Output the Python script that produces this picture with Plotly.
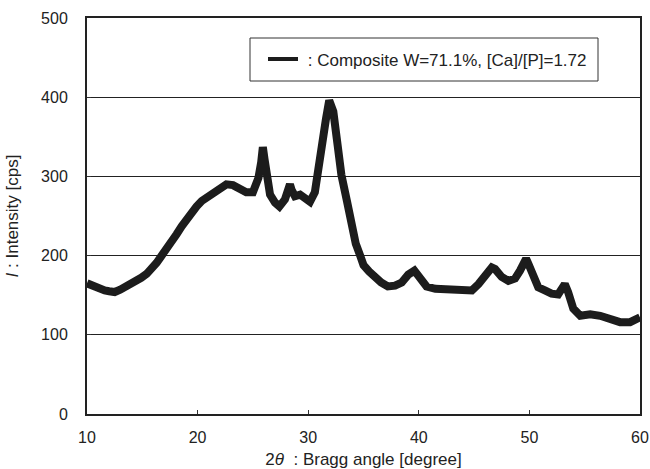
import plotly.graph_objects as go

two_theta = [10.0, 10.5, 11.0, 11.6, 12.0, 12.5, 13.0, 13.7, 14.3, 14.9, 15.4, 15.85, 16.3, 16.75,
             17.2, 17.66, 18.1, 18.56, 19.0, 19.47, 19.9, 20.37, 20.8, 21.27, 21.7, 22.18, 22.6,
             23.2, 23.8, 24.4, 25.0, 25.5, 25.75, 25.9, 26.05, 26.25, 26.55, 27.0, 27.4, 27.9,
             28.2, 28.35, 28.5, 28.8, 29.26, 29.7, 30.16, 30.6, 30.9, 31.2, 31.6, 31.9, 32.05,
             32.27, 32.6, 33.0, 33.5, 33.9, 34.3, 34.7, 35.0, 35.5, 36.0, 36.6, 37.2, 37.85,
             38.45, 39.05, 39.6, 40.1, 40.7, 41.5, 42.4, 43.3, 44.2, 44.8, 45.4, 46.0, 46.6,
             46.9, 47.5, 48.1, 48.7, 49.15, 49.5, 49.7, 49.9, 50.2, 50.8, 51.4, 52.0, 52.6,
             53.0, 53.2, 53.5, 53.97, 54.6, 55.5, 56.4, 57.3, 58.2, 59.1, 59.6, 60.0]
intensity = [165, 162, 158, 156, 155, 154, 157, 162, 167, 172, 177, 183, 191, 200,
             208, 217, 227, 237, 246, 254, 262, 269, 273, 277, 282, 285, 290,
             289, 284, 280, 280, 298, 318, 337, 322, 298, 277, 267, 262, 271,
             280, 290, 283, 275, 277, 271, 268, 280, 311, 346, 372, 396, 392,
             382, 346, 302, 269, 238, 215, 200, 188, 180, 173, 166, 161, 162,
             166, 176, 181, 173, 161, 158, 157, 157, 155, 156, 164, 173, 185,
             183, 173, 168, 171, 181, 190, 196, 190, 181, 160, 156, 152, 151,
             158, 164, 154, 133, 124, 126, 124, 120, 116, 116, 118, 122]

x_ticks = [10, 20, 30, 40, 50, 60]
y_ticks = [0, 100, 200, 300, 400, 500]
series_name = "\u00a0: Composite W=71.1%, [Ca]/[P]=1.72"

FONT = "Liberation Sans, Arial, sans-serif"
INK = "#1c1c1c"

fig = go.Figure()
fig.add_trace(go.Scatter(
    x=two_theta, y=intensity, mode="lines", showlegend=False,
    line=dict(color=INK, width=8),
))
# legend entry (thinner sample line, as in the original)
fig.add_trace(go.Scatter(
    x=[None], y=[None], mode="lines", name=series_name,
    line=dict(color=INK, width=4),
))

# legend frame
fig.add_shape(type="rect", xref="paper", yref="paper",
              x0=(250 - 87) / 553, x1=(598 - 87) / 553,
              y0=(414 - 81) / 396, y1=(414 - 38) / 396,
              line=dict(color="#333", width=1), fillcolor="white", layer="below")

fig.update_layout(
    width=650, height=469,
    margin=dict(l=87, r=10, t=18, b=55),
    paper_bgcolor="white", plot_bgcolor="white",
    font=dict(family=FONT, size=16, color="#222"),
    showlegend=True,
    legend=dict(
        x=(263 - 87) / 553, y=(414 - 59.5) / 396, xanchor="left", yanchor="middle",
        borderwidth=0, bgcolor="rgba(0,0,0,0)",
        font=dict(size=17, family=FONT, color="#222"),
        itemwidth=30,
    ),
    xaxis=dict(
        range=[10, 60], tickvals=x_ticks, ticktext=[str(v) for v in x_ticks],
        ticks="inside", ticklen=4, tickcolor="#333", tickwidth=1,
        showline=True, linecolor="#222", linewidth=2, mirror=True,
        showgrid=False, zeroline=False, automargin=False,
        tickfont=dict(size=16), ticklabelstandoff=8,
        title=dict(text="2<i>θ</i>\u00a0\u00a0: Bragg angle [degree]", font=dict(size=17), standoff=8),
    ),
    yaxis=dict(
        range=[0, 500], tickvals=y_ticks, ticktext=[str(v) for v in y_ticks],
        ticks="inside", ticklen=4, tickcolor="#333", tickwidth=1,
        showline=True, linecolor="#222", linewidth=2, mirror=True,
        showgrid=True, gridcolor="#222", gridwidth=1, zeroline=False, automargin=False,
        tickfont=dict(size=16), ticklabelstandoff=14,
        title=dict(text="<i>I</i> : Intensity [cps]", font=dict(size=17), standoff=18),
    ),
)

fig.write_html("out.html")
